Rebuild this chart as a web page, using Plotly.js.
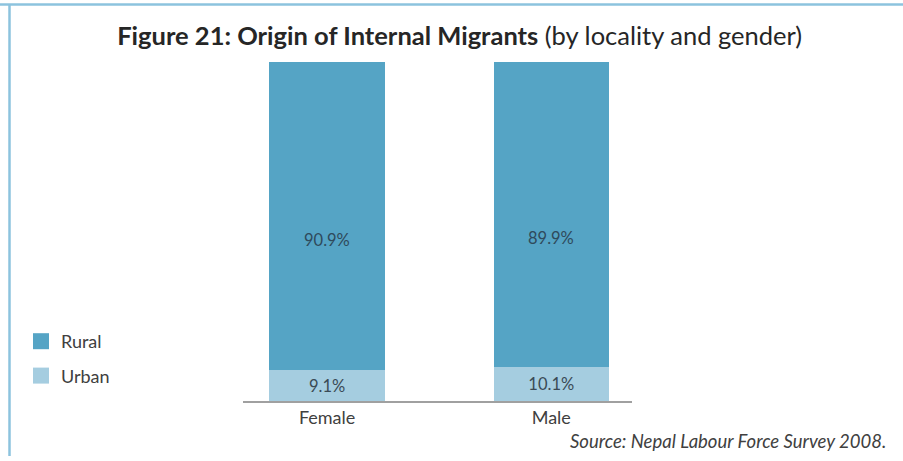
<!DOCTYPE html>
<html>
<head>
<meta charset="utf-8">
<script src="https://cdn.plot.ly/plotly-3.0.1.min.js"></script>
<style>html,body{margin:0;padding:0;background:#fff;}#chart{width:903px;height:461px;}</style>
</head>
<body>
<div id="chart"></div>
<script>
const categories = ["Female", "Male"];
const rural = [90.9, 89.9];
const urban = [9.1, 10.1];
const seriesNames = ["Rural", "Urban"];
const seriesColors = ["#55A4C5", "#A5CDE0"];
const labelFmt = v => v.toFixed(1) + "%";

const FONT = "Lato, 'Open Sans', sans-serif";
const traces = [
  {
    type: "bar", name: seriesNames[1], x: categories, y: urban,
    marker: {color: seriesColors[1]}, width: 0.515, showlegend: false,
    text: urban.map(labelFmt), textposition: "inside", insidetextanchor: "middle",
    textangle: 0, constraintext: "none",
    textfont: {family: FONT, size: 16.5, color: "#3a4a55"},
    hoverinfo: "none"
  },
  {
    type: "bar", name: seriesNames[0], x: categories, y: rural,
    marker: {color: seriesColors[0]}, width: 0.515, showlegend: false,
    hoverinfo: "none"
  },
  // legend entries
  {type: "scatter", mode: "markers", name: seriesNames[0], x: [null], y: [null],
   marker: {symbol: "square", size: 18, color: seriesColors[0]}, legendgroup: "a"},
  {type: "scatter", mode: "markers", name: seriesNames[1], x: [null], y: [null],
   marker: {symbol: "square", size: 18, color: seriesColors[1]}, legendgroup: "b"}
];

const W = 903, H = 461, L = 243, R = 632, T = 62, B = 401;
const px = v => (v - L) / (R - L);
const py = v => (B - v) / (B - T);

const ruralLabels = categories.map((c, i) => ({
  xref: "x", yref: "y", x: c, y: urban[i] + rural[i] / 2, yshift: -24,
  text: labelFmt(rural[i]), showarrow: false,
  font: {family: FONT, size: 16.5, color: "#2f4a5c"}
}));

const layout = {
  width: W, height: H,
  margin: {l: L, r: W - R, t: T, b: H - B, pad: 0},
  paper_bgcolor: "#ffffff", plot_bgcolor: "#ffffff",
  barmode: "stack",
  font: {family: FONT, color: "#404040"},
  title: {
    text: "<b>Figure 21: Origin of Internal Migrants</b> (by locality and gender)",
    font: {family: FONT, size: 25.5, color: "#262626"},
    x: 0.509, xanchor: "center", y: 1 - 36 / H, yanchor: "middle"
  },
  xaxis: {
    type: "category", range: [-0.375, 1.36],
    showline: true, linecolor: "#a0a0a0", linewidth: 1.5,
    ticks: "", showgrid: false, zeroline: false,
    tickfont: {family: FONT, size: 18, color: "#404040"}
  },
  yaxis: {range: [0, 100], visible: false, showgrid: false, zeroline: false},
  showlegend: true,
  legend: {
    x: px(21), y: py(323), xanchor: "left", yanchor: "top",
    traceorder: "grouped", tracegroupgap: 8, itemsizing: "trace",
    font: {family: FONT, size: 18, color: "#404040"},
    itemwidth: 30, bgcolor: "rgba(0,0,0,0)"
  },
  shapes: [
    {type: "line", xref: "paper", yref: "paper", x0: px(0), x1: px(W), y0: py(4.5), y1: py(4.5),
     line: {color: "#8cc3de", width: 2.5}},
    {type: "line", xref: "paper", yref: "paper", x0: px(9.5), x1: px(9.5), y0: py(4), y1: py(456),
     line: {color: "#8cc3de", width: 2.5}}
  ],
  annotations: ruralLabels.concat([
    {xref: "paper", yref: "paper", x: px(888), y: py(441), xanchor: "right", yanchor: "middle",
     text: "<i>Source: Nepal Labour Force Survey 2008.</i>", showarrow: false,
     font: {family: FONT, size: 18.5, color: "#404040"}}
  ])
};

Plotly.newPlot("chart", traces, layout, {displayModeBar: false, staticPlot: true});
</script>
</body>
</html>
